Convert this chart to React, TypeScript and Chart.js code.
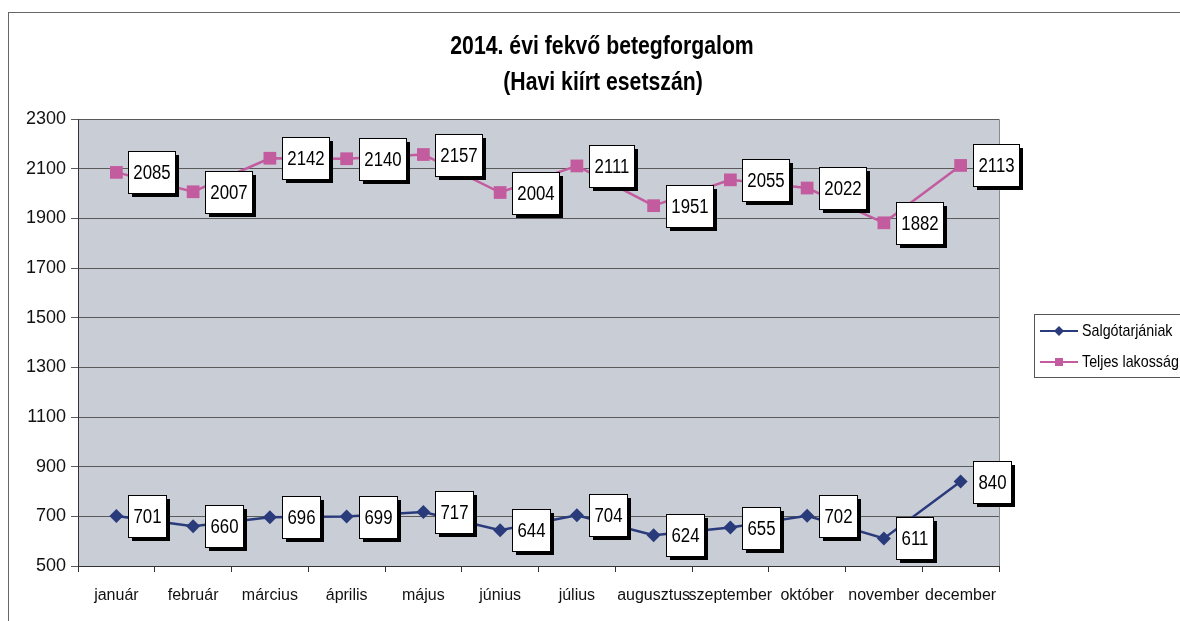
import React, { useEffect, useRef } from 'react';
import { Chart, registerables } from 'chart.js';

Chart.register(...registerables);

const months = ['január', 'február', 'március', 'április', 'május', 'június', 'július', 'augusztus', 'szeptember', 'október', 'november', 'december'];
const salgotarjan = [701, 660, 696, 699, 717, 644, 704, 624, 655, 702, 611, 840];
const teljes = [2085, 2007, 2142, 2140, 2157, 2004, 2111, 1951, 2055, 2022, 1882, 2113];
const yMin = 500;
const yMax = 2300;
const yStep = 200;
const titleLines = ['2014. évi fekvő betegforgalom', '(Havi kiírt esetszán)'];
const seriesNames = ['Salgótarjániak', 'Teljes lakosság'];

const NAVY = '#2a3b7c';
const PINK = '#c25c9f';
const SANS = '"Liberation Sans", Arial, sans-serif';

function narrowText(ctx: any, text: string, x: number, y: number, sx: number) {
  ctx.save();
  ctx.translate(x, y);
  ctx.scale(sx, 1);
  ctx.fillText(text, 0, 0);
  ctx.restore();
}

const backgroundPlugin = {
  id: 'bg',
  beforeDraw(chart: any) {
    const { ctx, chartArea: a } = chart;
    ctx.save();
    ctx.fillStyle = '#ffffff';
    ctx.fillRect(0, 0, chart.width, chart.height);
    ctx.strokeStyle = '#666';
    ctx.lineWidth = 1;
    ctx.strokeRect(8.5, 12.5, 1300, 700);
    ctx.fillStyle = '#c9cdd6';
    ctx.fillRect(a.left, a.top, a.right - a.left, a.bottom - a.top);
    ctx.strokeStyle = '#8a8a8a';
    ctx.beginPath();
    ctx.moveTo(a.left, a.top + 0.5);
    ctx.lineTo(a.right + 0.5, a.top + 0.5);
    ctx.lineTo(a.right + 0.5, a.bottom);
    ctx.stroke();
    ctx.restore();
  },
};

const labelPlugin = {
  id: 'boxLabels',
  afterDatasetsDraw(chart: any) {
    const { ctx } = chart;
    const sx = 0.84;
    ctx.save();
    ctx.font = `20px ${SANS}`;
    ctx.textAlign = 'center';
    ctx.textBaseline = 'middle';
    chart.data.datasets.forEach((ds: any, di: number) => {
      const meta = chart.getDatasetMeta(di);
      meta.data.forEach((pt: any, i: number) => {
        const txt = String(ds.data[i]);
        const w = Math.round(ctx.measureText(txt).width * sx + 10);
        const h = 42;
        const x = Math.round(pt.x + 12);
        const y = Math.round(pt.y - h / 2);
        ctx.fillStyle = '#000';
        ctx.fillRect(x + 4, y + 4, w, h);
        ctx.fillStyle = '#fff';
        ctx.fillRect(x, y, w, h);
        ctx.strokeStyle = '#000';
        ctx.lineWidth = 1;
        ctx.strokeRect(x + 0.5, y + 0.5, w, h);
        ctx.fillStyle = '#000';
        narrowText(ctx, txt, x + w / 2 + 0.5, y + h / 2 + 1, sx);
      });
    });
    ctx.restore();
  },
};

const titleLegendPlugin = {
  id: 'titleLegend',
  afterDraw(chart: any) {
    const { ctx } = chart;
    ctx.save();
    ctx.fillStyle = '#000';
    ctx.font = `bold 25px ${SANS}`;
    ctx.textAlign = 'center';
    ctx.textBaseline = 'middle';
    narrowText(ctx, titleLines[0], 602, 47, 0.85);
    narrowText(ctx, titleLines[1], 603, 83, 0.85);

    // legend
    ctx.strokeStyle = '#555';
    ctx.lineWidth = 1;
    ctx.fillStyle = '#fff';
    ctx.fillRect(1034.5, 314.5, 300, 63);
    ctx.strokeRect(1034.5, 314.5, 300, 63);
    const entries = [
      { y: 331, color: NAVY, style: 'diamond', name: seriesNames[0] },
      { y: 362, color: PINK, style: 'square', name: seriesNames[1] },
    ];
    entries.forEach((e) => {
      ctx.strokeStyle = e.color;
      ctx.lineWidth = 2;
      ctx.beginPath();
      ctx.moveTo(1040, e.y);
      ctx.lineTo(1078, e.y);
      ctx.stroke();
      ctx.fillStyle = e.color;
      if (e.style === 'diamond') {
        ctx.beginPath();
        ctx.moveTo(1059, e.y - 5);
        ctx.lineTo(1064, e.y);
        ctx.lineTo(1059, e.y + 5);
        ctx.lineTo(1054, e.y);
        ctx.closePath();
        ctx.fill();
      } else {
        ctx.fillRect(1055, e.y - 4, 8, 8);
      }
      ctx.fillStyle = '#000';
      ctx.font = `17px ${SANS}`;
      ctx.textAlign = 'left';
      narrowText(ctx, e.name, 1082, e.y, 0.84);
    });
    ctx.restore();
  },
};

export default function App() {
  const ref = useRef<HTMLCanvasElement | null>(null);
  useEffect(() => {
    if (!ref.current) return;
    const chart = new Chart(ref.current, {
      type: 'line',
      data: {
        labels: months,
        datasets: [
          {
            label: seriesNames[0],
            data: salgotarjan,
            borderColor: NAVY,
            backgroundColor: NAVY,
            borderWidth: 2.5,
            pointStyle: 'rectRot',
            pointRadius: 7,
            pointBorderWidth: 0,
            tension: 0,
          },
          {
            label: seriesNames[1],
            data: teljes,
            borderColor: PINK,
            backgroundColor: PINK,
            borderWidth: 2.5,
            pointStyle: 'rect',
            pointRadius: 9,
            pointBorderWidth: 0,
            tension: 0,
          },
        ],
      },
      options: {
        responsive: false,
        animation: false,
        events: [],
        layout: { padding: { left: 0, top: 119, right: 181, bottom: 0 } },
        plugins: {
          legend: { display: false },
          title: { display: false },
          tooltip: { enabled: false },
        },
        scales: {
          x: {
            offset: true,
            afterFit: (s: any) => { s.height = 55; },
            grid: { offset: true, drawOnChartArea: false, drawTicks: true, tickLength: 6, color: '#333' },
            border: { display: true, color: '#333', width: 1 },
            ticks: {
              maxRotation: 0,
              minRotation: 0,
              autoSkip: false,
              padding: 14,
              color: '#111',
              font: { family: SANS, size: 16 },
            },
          },
          y: {
            min: yMin,
            max: yMax,
            afterFit: (s: any) => { s.width = 78; },
            grid: { color: '#5a5a5a', lineWidth: 1, drawTicks: true, tickLength: 7 },
            border: { display: true, color: '#333', width: 1 },
            ticks: {
              stepSize: yStep,
              padding: 5,
              color: '#111',
              font: { family: SANS, size: 18 },
              callback: (v: any) => String(v),
            },
          },
        },
      },
      plugins: [backgroundPlugin, labelPlugin, titleLegendPlugin],
    });
    return () => chart.destroy();
  }, []);
  return (
    <div style={{ position: 'fixed', left: 0, top: 0, width: 1180, height: 621, overflow: 'hidden', background: '#fff' }}>
      <canvas ref={ref} width={1180} height={621} style={{ display: 'block' }} />
    </div>
  );
}
